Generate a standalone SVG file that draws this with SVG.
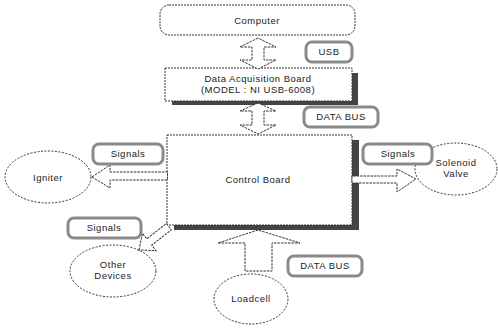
<svg xmlns="http://www.w3.org/2000/svg" width="498" height="329" viewBox="0 0 498 329">
<style>
text{font-family:"Liberation Sans",Arial,sans-serif;font-size:9.5px;fill:#222;text-anchor:middle;letter-spacing:0.5px}
.box{fill:#fff;stroke:#333;stroke-width:1;stroke-dasharray:2 1}
.shadow{fill:#444}
.lbl{fill:#fff;stroke:#8a8a8a;stroke-width:3}
.arrow{fill:#fff;stroke:#333;stroke-width:1;stroke-dasharray:2.5 1}
.ell{fill:#fff;stroke:#333;stroke-width:1;stroke-dasharray:2 1.5}
</style>
<rect width="498" height="329" fill="#fff"/>
<g id="computer">
<rect class="box" x="160" y="5" width="195" height="30" rx="9"/>
<text x="257" y="24">Computer</text>
</g>
<g id="daq">
<rect class="shadow" x="172" y="73" width="186" height="32"/>
<rect class="box" x="165" y="68" width="187" height="33"/>
<text x="258" y="82">Data Acquisition Board</text>
<text x="258" y="93">(MODEL : NI USB-6008)</text>
</g>
<g id="control">
<rect class="shadow" x="174" y="140" width="185" height="90"/>
<rect class="box" x="167" y="135" width="185" height="90"/>
<text x="258" y="183">Control Board</text>
</g>
<g id="igniter">
<ellipse class="ell" cx="48" cy="177" rx="43" ry="26"/>
<text x="48" y="181">Igniter</text>
</g>
<g id="solenoid">
<ellipse class="ell" cx="456" cy="169" rx="41" ry="26"/>
<text x="456" y="166">Solenoid</text>
<text x="456" y="177">Valve</text>
</g>
<g id="other">
<ellipse class="ell" cx="113" cy="271" rx="43" ry="26"/>
<text x="113" y="268">Other</text>
<text x="113" y="279">Devices</text>
</g>
<g id="loadcell">
<ellipse class="ell" cx="251" cy="299" rx="37" ry="25"/>
<text x="251" y="302">Loadcell</text>
</g>
<g id="connectors">
<polygon class="arrow" points="258,38 240,47 252,47 252,60 240,60 258,69 276,60 264,60 264,47 276,47"/>
<polygon class="arrow" points="258,103 240,111 252,111 252,125 240,125 258,134 276,125 264,125 264,111 276,111"/>
<polygon class="arrow" points="92,177 110,165 110,172 167.5,172 167.5,180 110,180 110,188"/>
<polygon class="arrow" points="416,179 397,169 397,176 352,176 352,183 397,183 397,192"/>
<polygon class="arrow" points="258,230 218,243 245,243 245,271 272,271 272,243 300,243"/>
<polygon class="arrow" transform="translate(139,250) rotate(-38)" points="0,0 13,-11 13,-4 38,-4 38,4 13,4 13,11"/>
</g>
<g id="labels">
<g id="lbl-usb"><rect class="lbl" x="306" y="42" width="46" height="20" rx="6"/><text x="329" y="55">USB</text></g>
<g id="lbl-databus1"><rect class="lbl" x="304" y="107" width="74" height="20" rx="6"/><text x="341" y="120">DATA BUS</text></g>
<g id="lbl-signals1"><rect class="lbl" x="93" y="144" width="70" height="20" rx="6"/><text x="128" y="157">Signals</text></g>
<g id="lbl-signals2"><rect class="lbl" x="363" y="144" width="69" height="20" rx="6"/><text x="398" y="157">Signals</text></g>
<g id="lbl-signals3"><rect class="lbl" x="68" y="218" width="73" height="20" rx="6"/><text x="104" y="231">Signals</text></g>
<g id="lbl-databus2"><rect class="lbl" x="288" y="256" width="74" height="20" rx="6"/><text x="325" y="269">DATA BUS</text></g>
</g>
</svg>
